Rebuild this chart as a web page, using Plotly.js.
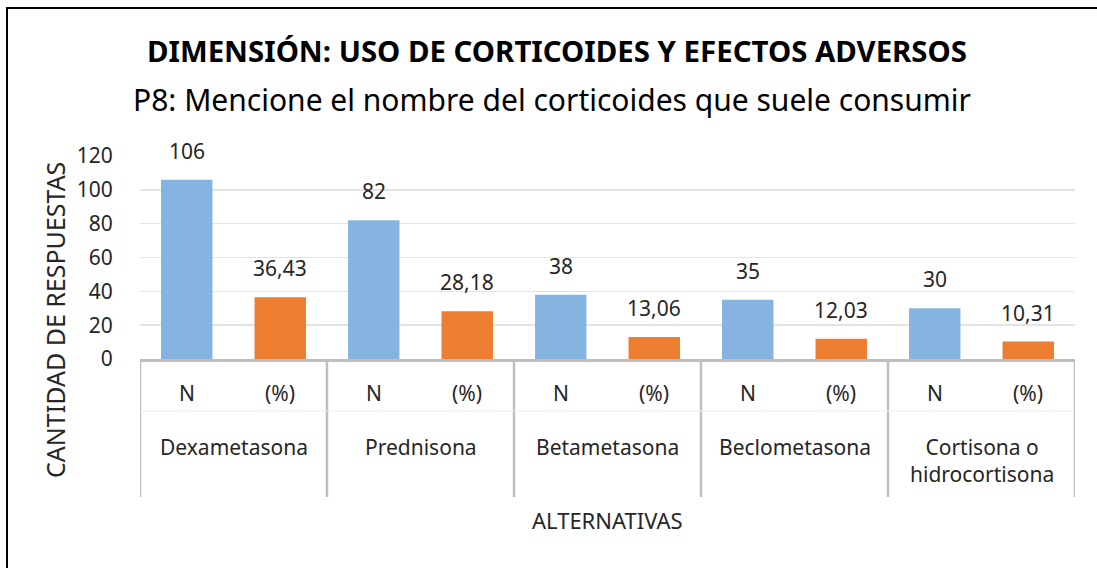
<!DOCTYPE html>
<html>
<head>
<meta charset="utf-8">
<script src="https://cdn.plot.ly/plotly-3.0.1.min.js"></script>
<style>
  html, body { margin: 0; padding: 0; overflow: hidden; background: #fff; }
  #chart { position: absolute; left: 0; top: 0; width: 1097px; height: 568px; }
  #frame { position: absolute; left: 6px; top: 7px; width: 1300px; height: 800px;
           border: 2.5px solid #000; pointer-events: none; box-sizing: border-box; }
</style>
</head>
<body>
<div id="chart"></div>
<div id="frame"></div>
<script>
const groups = ['Dexametasona', 'Prednisona', 'Betametasona', 'Beclometasona', 'Cortisona o<br>hidrocortisona'];
const subLabels = ['N', '(%)'];
const nValues = [106, 82, 38, 35, 30];
const pctValues = [36.43, 28.18, 13.06, 12.03, 10.31];
const yTicks = [0, 20, 40, 60, 80, 100, 120];

const blue = '#85B4E0';
const orange = '#ED7D31';
const textColor = '#262626';
const FONT = '"Noto Sans", "Open Sans", sans-serif';

const nX = groups.map((g, i) => 2 * i);
const pX = groups.map((g, i) => 2 * i + 1);
const fmt = v => Number.isInteger(v) ? String(v) : v.toFixed(2).replace('.', ',');

const traces = [
  { type: 'bar', x: nX, y: nValues, width: 0.55, marker: { color: blue }, hoverinfo: 'y', showlegend: false },
  { type: 'bar', x: pX, y: pctValues, width: 0.55, marker: { color: orange }, hoverinfo: 'y', showlegend: false }
];

const W = 1097, H = 568;
const plotTop = 156, plotBottom = 359, plotH = plotBottom - plotTop;
const plotLeft = 140, plotRight = 1075, plotW = plotRight - plotLeft;
const py = px => -(px - plotBottom) / plotH;   // pixel row -> paper y
const pxx = px => (px - plotLeft) / plotW;     // pixel column -> paper x

const LBL = 21;
const annotations = [];
// data labels
nX.forEach((x, i) => annotations.push({ x: x, y: nValues[i], xref: 'x', yref: 'y', text: fmt(nValues[i]),
  showarrow: false, yanchor: 'bottom', yshift: 13, font: { size: LBL, color: textColor, family: FONT } }));
pX.forEach((x, i) => annotations.push({ x: x, y: pctValues[i], xref: 'x', yref: 'y', text: fmt(pctValues[i]),
  showarrow: false, yanchor: 'bottom', yshift: 13, font: { size: LBL, color: textColor, family: FONT } }));
// sub-category and group labels
groups.forEach((g, i) => {
  subLabels.forEach((s, j) => annotations.push({ x: 2 * i + j, y: py(393), xref: 'x', yref: 'paper', text: s,
    showarrow: false, yanchor: 'middle', font: { size: LBL, color: textColor, family: FONT } }));
  annotations.push({ x: 2 * i + 0.5, y: py(431), xref: 'x', yref: 'paper', text: g, showarrow: false,
    yanchor: 'top', align: 'center', font: { size: LBL, color: textColor, family: FONT } });
});
// subtitle
annotations.push({ x: pxx(552), y: py(100), xref: 'paper', yref: 'paper', xanchor: 'center', yanchor: 'middle',
  text: 'P8: Mencione el nombre del corticoides que suele consumir', showarrow: false,
  font: { size: 30, color: '#000', family: FONT } });
// axis titles
annotations.push({ x: pxx(607), y: py(520), xref: 'paper', yref: 'paper', xanchor: 'center', yanchor: 'middle',
  text: 'ALTERNATIVAS', showarrow: false, font: { size: 22, color: textColor, family: FONT } });
annotations.push({ x: pxx(55), y: py(320), xref: 'paper', yref: 'paper', xanchor: 'center', yanchor: 'middle',
  text: 'CANTIDAD DE RESPUESTAS', textangle: -90, showarrow: false, font: { size: 25, color: textColor, family: FONT } });

// category-axis dividers
const shapes = [];
for (let k = 0; k <= groups.length; k++) {
  shapes.push({ type: 'line', xref: 'x', yref: 'paper', x0: 2 * k - 0.5, x1: 2 * k - 0.5, y0: 0, y1: py(497),
    line: { color: '#BFBFBF', width: 2.5 } });
}
shapes.push({ type: 'line', xref: 'x', yref: 'paper', x0: -0.5, x1: 2 * groups.length - 0.5, y0: py(411), y1: py(411),
  line: { color: '#EDEDED', width: 1 } });

const layout = {
  width: W, height: H,
  margin: { l: plotLeft, r: W - plotRight, t: plotTop, b: H - plotBottom },
  paper_bgcolor: '#fff', plot_bgcolor: '#fff',
  font: { family: FONT, color: textColor },
  title: {
    text: '<b>DIMENSIÓN: USO DE CORTICOIDES Y EFECTOS ADVERSOS</b>',
    x: 557 / W, xanchor: 'center', y: 1 - 52 / H, yanchor: 'middle',
    font: { size: 29.4, color: '#000', family: FONT }
  },
  barmode: 'overlay',
  xaxis: { range: [-0.5, 9.5], showticklabels: false, ticks: '', showgrid: false, zeroline: false,
           showline: true, linecolor: '#BFBFBF', linewidth: 2.5, fixedrange: true },
  yaxis: { range: [0, 120], tickvals: yTicks, ticktext: yTicks.map(String), showgrid: true, gridcolor: '#E3E3E3',
           gridwidth: 1.5, zeroline: false, showline: false, ticks: 'outside', ticklen: 22,
           tickcolor: 'rgba(0,0,0,0)',
           tickfont: { size: 21, color: textColor, family: FONT }, fixedrange: true },
  annotations: annotations,
  shapes: shapes
};

Plotly.newPlot('chart', traces, layout, { displayModeBar: false, staticPlot: true });
</script>
</body>
</html>
